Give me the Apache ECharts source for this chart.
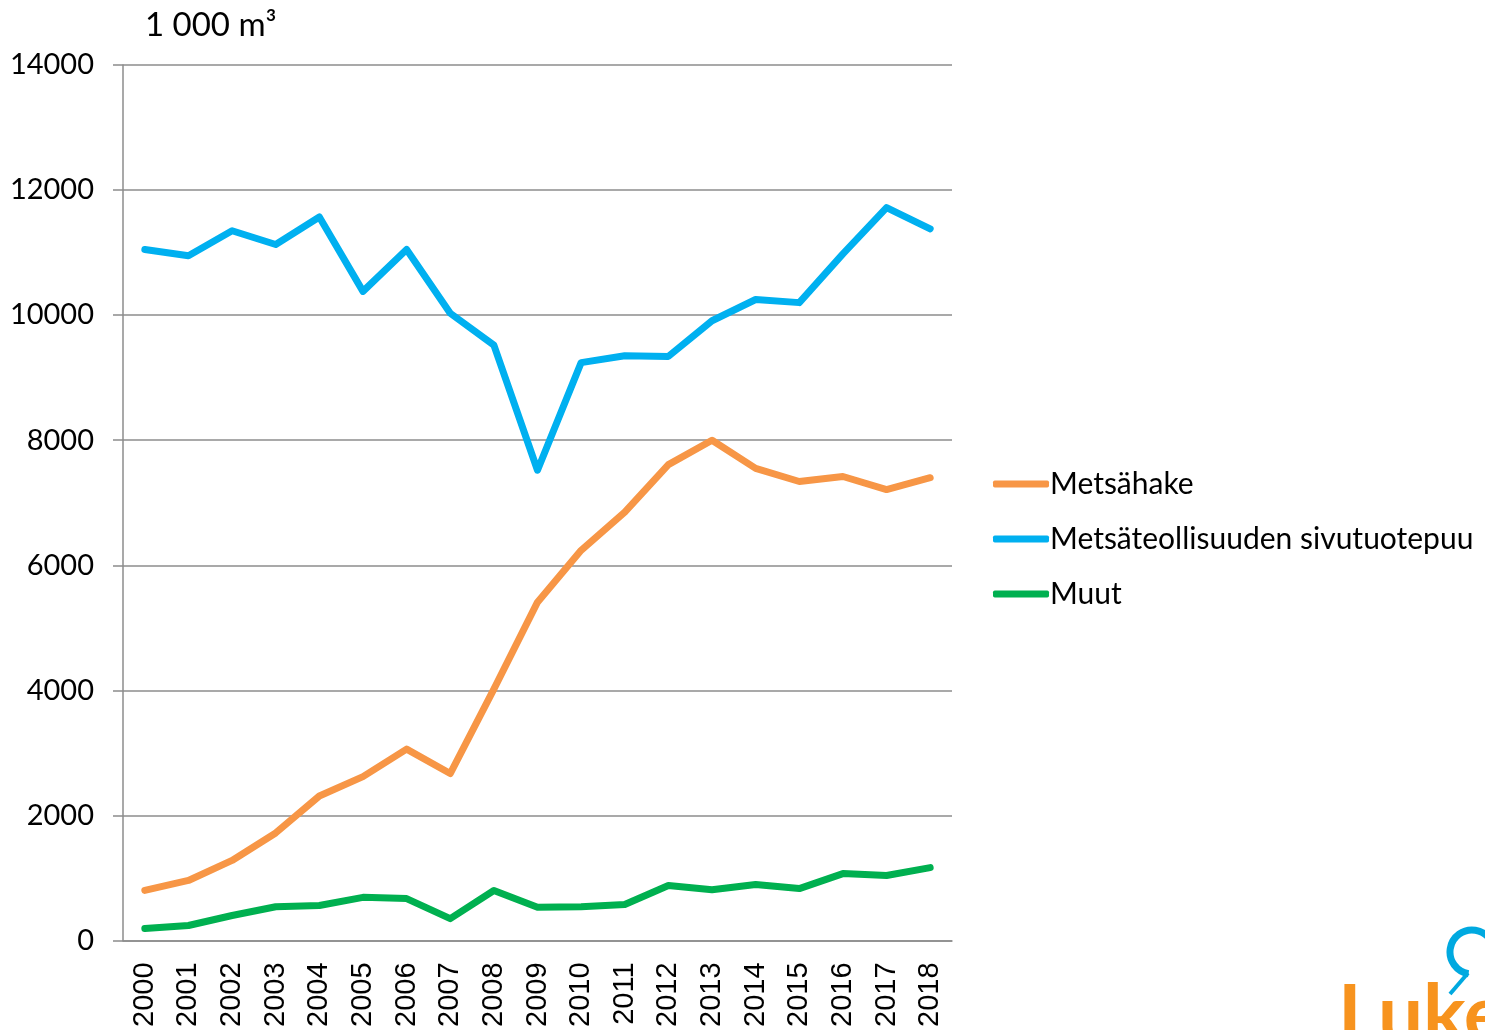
<!DOCTYPE html>
<html>
<head>
<meta charset="utf-8">
<script src="https://cdn.jsdelivr.net/npm/echarts@6/dist/echarts.min.js"></script>
<style>
  html, body { margin: 0; padding: 0; background: #fff; }
  #chart { width: 1485px; height: 1030px; }
</style>
</head>
<body>
<div id="chart"></div>
<script>
// vuodet
var years = ['2000','2001','2002','2003','2004','2005','2006','2007','2008','2009',
  '2010','2011','2012','2013','2014','2015','2016','2017','2018'];
// 1 000 m3
var metsahake = [800, 960, 1280, 1720, 2310, 2620, 3060, 2670, 4020, 5410,
  6240, 6850, 7610, 8000, 7550, 7340, 7420, 7210, 7400];
var sivutuotepuu = [11050, 10950, 11350, 11130, 11570, 10380, 11050, 10030, 9520, 7520,
  9240, 9350, 9340, 9910, 10250, 10200, 10980, 11720, 11380];
var muut = [190, 240, 400, 540, 560, 690, 670, 350, 800, 530,
  540, 575, 880, 810, 895, 830, 1070, 1040, 1165];
var yTicks = [0, 2000, 4000, 6000, 8000, 10000, 12000, 14000];

var gridColor = '#8c8c8c';
var txtFont = 'Lato, "Open Sans", sans-serif';

var chart = echarts.init(document.getElementById('chart'));

var option = {
  animation: false,
  backgroundColor: '#fff',
  grid: { left: 123, right: 533, top: 65, bottom: 88 },
  title: {
    text: '1 000 m³',
    left: 140, top: 4,
    textStyle: { fontFamily: txtFont, fontWeight: 'normal', fontSize: 33, color: '#000' }
  },
  legend: {
    orient: 'vertical',
    left: 988, top: 464,
    icon: 'roundRect',
    itemWidth: 56, itemHeight: 7,
    itemGap: 25,
    textStyle: { fontFamily: txtFont, fontSize: 30, color: '#000', lineHeight: 30, padding: [0, 0, 0, -4] },
    data: ['Metsähake', 'Metsäteollisuuden sivutuotepuu', 'Muut']
  },
  xAxis: {
    type: 'category',
    data: years,
    boundaryGap: true,
    axisLine: { lineStyle: { color: gridColor, width: 1.5 } },
    axisTick: { length: 10, lineStyle: { color: gridColor, width: 1.5 } },
    axisLabel: {
      rotate: 90, margin: 22, color: '#000',
      fontFamily: '"Liberation Sans", Arial, sans-serif', fontSize: 29
    }
  },
  yAxis: {
    type: 'value',
    min: yTicks[0], max: yTicks[yTicks.length - 1], interval: 2000,
    axisLine: { show: true, lineStyle: { color: gridColor, width: 1.5 } },
    axisTick: { show: true, length: 10, lineStyle: { color: gridColor, width: 1.5 } },
    axisLabel: {
      margin: 29, color: '#000', fontFamily: txtFont, fontSize: 29,
      formatter: function (v) { return String(v); }
    },
    splitLine: { lineStyle: { color: gridColor, width: 1.5 } }
  },
  series: [
    {
      name: 'Metsähake', type: 'line', data: metsahake,
      symbol: 'none', color: '#F79646',
      lineStyle: { width: 7, cap: 'round', join: 'round' }
    },
    {
      name: 'Metsäteollisuuden sivutuotepuu', type: 'line', data: sivutuotepuu,
      symbol: 'none', color: '#00B0F0',
      lineStyle: { width: 7, cap: 'round', join: 'round' }
    },
    {
      name: 'Muut', type: 'line', data: muut,
      symbol: 'none', color: '#00B050',
      lineStyle: { width: 7, cap: 'round', join: 'round' }
    }
  ],
  graphic: [
    {
      type: 'text', left: 1338, top: 976,
      style: { text: 'Luke', fill: '#F7931E', font: 'bold 80px Lato, sans-serif' }
    },
    {
      type: 'arc',
      shape: { cx: 1472, cy: 952, r: 22, startAngle: Math.PI * 0.55, endAngle: Math.PI * 2.05 },
      style: { stroke: '#00A9E0', lineWidth: 7, fill: null }
    },
    {
      type: 'line',
      shape: { x1: 1468, y1: 973, x2: 1450, y2: 994 },
      style: { stroke: '#00A9E0', lineWidth: 4 }
    }
  ]
};

chart.setOption(option);
</script>
</body>
</html>
